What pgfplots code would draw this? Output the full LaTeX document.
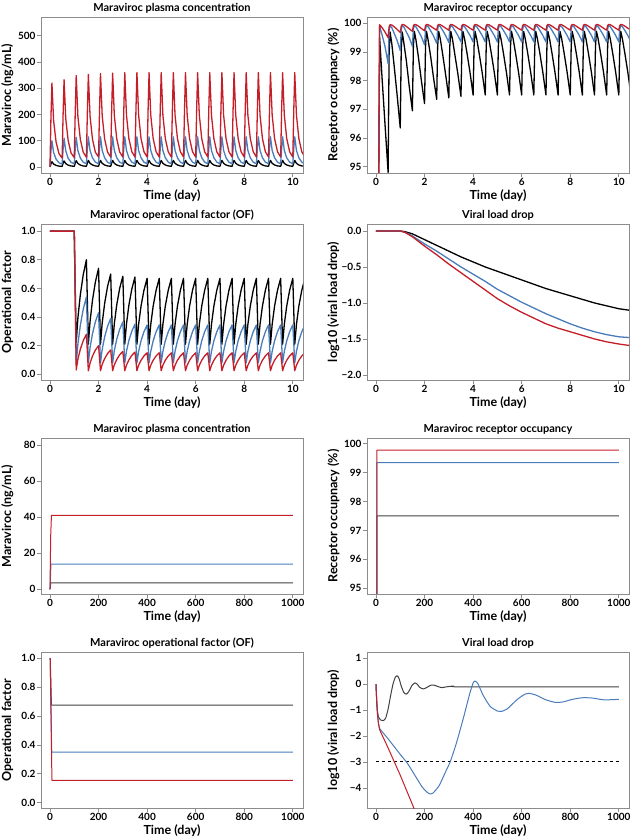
\documentclass[border=0pt]{standalone}
\usepackage{fontspec}
\setmainfont{Lato}
\usepackage{pgfplots}
\usepackage{pgfplotstable}
\pgfplotsset{compat=1.18}
\definecolor{cred}{RGB}{196,30,40}
\definecolor{cblue}{RGB}{74,124,186}
\definecolor{frm}{RGB}{140,140,140}

\pgfplotstableread{
t ck cb cr ok ob or fk fb fr
0 0 0 0 90 90 90 1 1 1
0.04 12 60 190 90 90 90 1 1 1
0.08 20 100 320 90 90 90 1 1 1
0.15 11 55 176 99.5 99.9 99.95 1 1 1
0.25 6 30 96 98.1 99.6 99.85 1 1 1
0.37 3.2 16 51 96.5 99.2 99.7 1 1 1
0.5 2.2 11 34 94.8 98.6 99.5 1 1 1
0.54 14 66 200 98.9 99.75 99.88 1 1 1
0.58 23 110 333 99.7 99.92 99.95 1 1 1
0.65 12.7 61 183 99.3 99.85 99.94 1 1 1
0.75 6.9 33 100 98.5 99.65 99.88 1 1 1
0.87 3.7 17.6 53 97.5 99.4 99.79 1 1 1
1.0 2.5 12 36 96.35 99.05 99.68 1 1 1
1.04 14.5 68 209 99.1 99.78 99.9 0.61 0.55 0.52
1.08 24 113 349 99.7 99.92 99.96 0.22 0.07 0.03
1.15 13.2 62 192 99.3 99.87 99.95 0.394 0.211 0.105
1.25 7.2 34 105 98.7 99.7 99.89 0.556 0.343 0.175
1.37 3.8 18 56 97.8 99.5 99.81 0.696 0.455 0.235
1.5 2.6 12 37 96.95 99.2 99.72 0.80 0.54 0.28
1.54 15 69 212 99.2 99.8 99.91 0.505 0.31 0.153
1.58 25 115 353 99.72 99.93 99.96 0.21 0.08 0.025
1.65 13.8 63 194 99.4 99.87 99.95 0.369 0.185 0.078
1.75 7.5 35 106 98.8 99.72 99.9 0.517 0.283 0.127
1.87 4 18.4 56 98.0 99.53 99.82 0.645 0.367 0.169
2.0 2.6 12 38 97.2 99.25 99.74 0.74 0.43 0.20
2.04 15 69 214 99.2 99.8 99.92 0.475 0.255 0.113
2.08 25 115 356 99.72 99.93 99.96 0.21 0.08 0.025
2.15 13.8 63 196 99.4 99.88 99.95 0.357 0.173 0.069
2.25 7.5 35 107 98.85 99.74 99.9 0.494 0.26 0.109
2.37 4 18.4 57 98.1 99.56 99.83 0.612 0.334 0.144
2.5 2.6 12 38 97.35 99.3 99.76 0.70 0.39 0.17
2.54 15 69 215 99.2 99.8 99.92 0.455 0.235 0.098
2.58 25 115 358 99.72 99.93 99.96 0.21 0.08 0.025
2.65 13.8 63 197 99.45 99.88 99.95 0.353 0.166 0.066
2.75 7.5 35 107 98.9 99.75 99.9 0.486 0.245 0.103
2.87 4 18.4 57 98.2 99.57 99.83 0.6 0.314 0.136
3.0 2.6 12 38 97.4 99.33 99.76 0.685 0.365 0.16
3.04 15 69 216 99.2 99.8 99.92 0.448 0.223 0.093
3.08 25 115 360 99.72 99.93 99.96 0.21 0.08 0.025
3.15 13.8 63 198 99.45 99.88 99.95 0.351 0.161 0.064
3.25 7.5 35 108 98.9 99.75 99.9 0.483 0.237 0.1
3.37 4 18.4 58 98.25 99.58 99.83 0.595 0.301 0.132
3.5 2.6 12 38 97.45 99.35 99.76 0.68 0.35 0.155
3.54 15 69 216 99.2 99.8 99.92 0.445 0.215 0.09
3.58 25 115 360 99.72 99.93 99.96 0.21 0.08 0.025
3.65 13.8 63 198 99.45 99.88 99.95 0.348 0.16 0.063
3.75 7.5 35 108 98.95 99.75 99.9 0.477 0.234 0.098
3.87 4 18.4 58 98.3 99.58 99.83 0.587 0.297 0.128
4.0 2.6 12 38 97.5 99.35 99.76 0.67 0.345 0.15
4.04 15 69 216 99.2 99.8 99.92 0.44 0.213 0.088
4.08 25 115 360 99.72 99.93 99.96 0.21 0.08 0.025
4.15 13.8 63 198 99.45 99.88 99.95 0.348 0.16 0.063
4.25 7.5 35 108 98.95 99.75 99.9 0.477 0.234 0.098
4.37 4 18.4 58 98.3 99.58 99.83 0.587 0.297 0.128
4.5 2.6 12 38 97.5 99.35 99.76 0.67 0.345 0.15
4.54 15 69 216 99.2 99.8 99.92 0.44 0.213 0.088
4.58 25 115 360 99.72 99.93 99.96 0.21 0.08 0.025
4.65 13.8 63 198 99.45 99.88 99.95 0.348 0.16 0.063
4.75 7.5 35 108 98.95 99.75 99.9 0.477 0.234 0.098
4.87 4 18.4 58 98.3 99.58 99.83 0.587 0.297 0.128
5.0 2.6 12 38 97.5 99.35 99.76 0.67 0.345 0.15
5.04 15 69 216 99.2 99.8 99.92 0.44 0.213 0.088
5.08 25 115 360 99.72 99.93 99.96 0.21 0.08 0.025
5.15 13.8 63 198 99.45 99.88 99.95 0.348 0.16 0.063
5.25 7.5 35 108 98.95 99.75 99.9 0.477 0.234 0.098
5.37 4 18.4 58 98.3 99.58 99.83 0.587 0.297 0.128
5.5 2.6 12 38 97.5 99.35 99.76 0.67 0.345 0.15
5.54 15 69 216 99.2 99.8 99.92 0.44 0.213 0.088
5.58 25 115 360 99.72 99.93 99.96 0.21 0.08 0.025
5.65 13.8 63 198 99.45 99.88 99.95 0.348 0.16 0.063
5.75 7.5 35 108 98.95 99.75 99.9 0.477 0.234 0.098
5.87 4 18.4 58 98.3 99.58 99.83 0.587 0.297 0.128
6.0 2.6 12 38 97.5 99.35 99.76 0.67 0.345 0.15
6.04 15 69 216 99.2 99.8 99.92 0.44 0.213 0.088
6.08 25 115 360 99.72 99.93 99.96 0.21 0.08 0.025
6.15 13.8 63 198 99.45 99.88 99.95 0.348 0.16 0.063
6.25 7.5 35 108 98.95 99.75 99.9 0.477 0.234 0.098
6.37 4 18.4 58 98.3 99.58 99.83 0.587 0.297 0.128
6.5 2.6 12 38 97.5 99.35 99.76 0.67 0.345 0.15
6.54 15 69 216 99.2 99.8 99.92 0.44 0.213 0.088
6.58 25 115 360 99.72 99.93 99.96 0.21 0.08 0.025
6.65 13.8 63 198 99.45 99.88 99.95 0.348 0.16 0.063
6.75 7.5 35 108 98.95 99.75 99.9 0.477 0.234 0.098
6.87 4 18.4 58 98.3 99.58 99.83 0.587 0.297 0.128
7.0 2.6 12 38 97.5 99.35 99.76 0.67 0.345 0.15
7.04 15 69 216 99.2 99.8 99.92 0.44 0.213 0.088
7.08 25 115 360 99.72 99.93 99.96 0.21 0.08 0.025
7.15 13.8 63 198 99.45 99.88 99.95 0.348 0.16 0.063
7.25 7.5 35 108 98.95 99.75 99.9 0.477 0.234 0.098
7.37 4 18.4 58 98.3 99.58 99.83 0.587 0.297 0.128
7.5 2.6 12 38 97.5 99.35 99.76 0.67 0.345 0.15
7.54 15 69 216 99.2 99.8 99.92 0.44 0.213 0.088
7.58 25 115 360 99.72 99.93 99.96 0.21 0.08 0.025
7.65 13.8 63 198 99.45 99.88 99.95 0.348 0.16 0.063
7.75 7.5 35 108 98.95 99.75 99.9 0.477 0.234 0.098
7.87 4 18.4 58 98.3 99.58 99.83 0.587 0.297 0.128
8.0 2.6 12 38 97.5 99.35 99.76 0.67 0.345 0.15
8.04 15 69 216 99.2 99.8 99.92 0.44 0.213 0.088
8.08 25 115 360 99.72 99.93 99.96 0.21 0.08 0.025
8.15 13.8 63 198 99.45 99.88 99.95 0.348 0.16 0.063
8.25 7.5 35 108 98.95 99.75 99.9 0.477 0.234 0.098
8.37 4 18.4 58 98.3 99.58 99.83 0.587 0.297 0.128
8.5 2.6 12 38 97.5 99.35 99.76 0.67 0.345 0.15
8.54 15 69 216 99.2 99.8 99.92 0.44 0.213 0.088
8.58 25 115 360 99.72 99.93 99.96 0.21 0.08 0.025
8.65 13.8 63 198 99.45 99.88 99.95 0.348 0.16 0.063
8.75 7.5 35 108 98.95 99.75 99.9 0.477 0.234 0.098
8.87 4 18.4 58 98.3 99.58 99.83 0.587 0.297 0.128
9.0 2.6 12 38 97.5 99.35 99.76 0.67 0.345 0.15
9.04 15 69 216 99.2 99.8 99.92 0.44 0.213 0.088
9.08 25 115 360 99.72 99.93 99.96 0.21 0.08 0.025
9.15 13.8 63 198 99.45 99.88 99.95 0.348 0.16 0.063
9.25 7.5 35 108 98.95 99.75 99.9 0.477 0.234 0.098
9.37 4 18.4 58 98.3 99.58 99.83 0.587 0.297 0.128
9.5 2.6 12 38 97.5 99.35 99.76 0.67 0.345 0.15
9.54 15 69 216 99.2 99.8 99.92 0.44 0.213 0.088
9.58 25 115 360 99.72 99.93 99.96 0.21 0.08 0.025
9.65 13.8 63 198 99.45 99.88 99.95 0.348 0.16 0.063
9.75 7.5 35 108 98.95 99.75 99.9 0.477 0.234 0.098
9.87 4 18.4 58 98.3 99.58 99.83 0.587 0.297 0.128
10.0 2.6 12 38 97.5 99.35 99.76 0.67 0.345 0.15
10.04 15 69 216 99.2 99.8 99.92 0.44 0.213 0.088
10.08 25 115 360 99.72 99.93 99.96 0.21 0.08 0.025
10.15 13.8 63 198 99.45 99.88 99.95 0.348 0.16 0.063
10.25 7.5 35 108 98.95 99.75 99.9 0.477 0.234 0.098
10.37 4 18.4 58 98.3 99.58 99.83 0.587 0.297 0.128
10.5 2.6 12 38 97.5 99.35 99.76 0.67 0.345 0.15
}\tabA

\pgfplotstableread{
t k b r
0 0 0 0
1 0 0 0
1.2 -0.01 -0.02 -0.02
1.5 -0.04 -0.07 -0.08
2 -0.12 -0.18 -0.21
2.5 -0.2 -0.28 -0.33
3 -0.28 -0.39 -0.46
3.5 -0.36 -0.5 -0.58
4 -0.43 -0.6 -0.7
4.5 -0.5 -0.7 -0.82
5 -0.56 -0.81 -0.94
5.5 -0.62 -0.9 -1.04
6 -0.68 -0.99 -1.13
6.5 -0.74 -1.07 -1.21
7 -0.8 -1.15 -1.29
7.5 -0.85 -1.22 -1.35
8 -0.9 -1.29 -1.4
8.5 -0.95 -1.35 -1.45
9 -1.0 -1.4 -1.5
9.5 -1.04 -1.44 -1.54
10 -1.08 -1.47 -1.57
10.42 -1.1 -1.48 -1.59
}\tabB

\pgfplotsset{
  panel/.style={
    scale only axis, width=262pt, height=156pt, anchor=south west,
    axis line style={frm, line width=0.8pt},
    tick pos=left, tick align=outside, major tick length=4pt,
    tick style={frm, line width=0.8pt},
    title style={font=\bfseries\fontsize{11}{13}\selectfont, yshift=-5.5pt},
    label style={font=\bfseries\fontsize{12.5}{14}\selectfont},
    tick label style={font=\bfseries\fontsize{10}{12}\selectfont},
    xticklabel style={yshift=2.5pt, /pgf/number format/set thousands separator={}},
    yticklabel style={xshift=2pt},
    /pgf/number format/assume math mode=true,
    xlabel={Time (day)},
    xlabel style={at={(axis description cs:0.5,-0.145)}, anchor=center},
    ylabel style={at={(axis description cs:-0.128,0.5)}, anchor=center},
  },
  topx/.style={xmin=-0.37, xmax=10.42, xtick={0,2,4,6,8,10}},
  botx/.style={xmin=-37, xmax=1042, xtick={0,200,400,600,800,1000}},
  kline/.style={black, line width=1.3pt, line join=round},
  bline/.style={cblue, line width=1.3pt, line join=round},
  rline/.style={cred, line width=1.3pt, line join=round},
  kthin/.style={black!75, line width=1pt, line join=round},
  bthin/.style={cblue, line width=1pt, line join=round},
  rthin/.style={cred, line width=1pt, line join=round},
}

\begin{document}
\begin{tikzpicture}
\useasboundingbox (0,0) rectangle (631pt,839pt);

% Panel 1
\begin{axis}[panel, topx, at={(41pt,666pt)}, ymin=-23, ymax=572, ytick={0,100,200,300,400,500},
  title={Maraviroc plasma concentration}, ylabel={Maraviroc (ng/mL)}]
\addplot[kline] table[x=t,y=ck]{\tabA};
\addplot[bline] table[x=t,y=cb]{\tabA};
\addplot[rline] table[x=t,y=cr]{\tabA};
\end{axis}

% Panel 2
\begin{axis}[panel, topx, at={(367pt,666pt)}, ymin=94.78, ymax=100.22, ytick={95,96,97,98,99,100},
  title={Maraviroc receptor occupancy}, ylabel={Receptor occupnacy (\%)}]
\addplot[kline] table[x=t,y=ok]{\tabA};
\addplot[bline] table[x=t,y=ob]{\tabA};
\addplot[rline] table[x=t,y=or]{\tabA};
\end{axis}

% Panel 3
\begin{axis}[panel, topx, at={(41pt,459pt)}, ymin=-0.04, ymax=1.05, ytick={0,0.2,0.4,0.6,0.8,1.0},
  yticklabel style={/pgf/number format/.cd, fixed, fixed zerofill, precision=1},
  title={Maraviroc operational factor (OF)}, ylabel={Operational factor}]
\addplot[kline] table[x=t,y=fk]{\tabA};
\addplot[bline] table[x=t,y=fb]{\tabA};
\addplot[rline] table[x=t,y=fr]{\tabA};
\end{axis}

% Panel 4
\begin{axis}[panel, topx, at={(367pt,459pt)}, ymin=-2.07, ymax=0.097,
  ytick={-2,-1.5,-1,-0.5,0}, yticklabels={−2.0,−1.5,−1.0,−0.5,0.0},
  title={Viral load drop}, ylabel={log10 (viral load drop)}]
\addplot[kline] table[x=t,y=k]{\tabB};
\addplot[bline] table[x=t,y=b]{\tabB};
\addplot[rline] table[x=t,y=r]{\tabB};
\end{axis}

% Panel 5
\begin{axis}[panel, botx, at={(41pt,245pt)}, ymin=-2.6, ymax=83.9, ytick={0,20,40,60,80},
  title={Maraviroc plasma concentration}, ylabel={Maraviroc (ng/mL)}]
\addplot[kthin] coordinates {(0,0) (3,3.5) (1000,3.5)};
\addplot[bthin] coordinates {(0,0) (4,14) (1000,14)};
\addplot[rthin] coordinates {(0,0) (3,30) (6,41) (1000,41)};
\end{axis}

% Panel 6
\begin{axis}[panel, botx, at={(367pt,245pt)}, ymin=94.8, ymax=100.2, ytick={95,96,97,98,99,100},
  title={Maraviroc receptor occupancy}, ylabel={Receptor occupnacy (\%)}]
\addplot[kthin] coordinates {(3,80) (4,97.5) (1000,97.5)};
\addplot[bthin] coordinates {(3,80) (4,99.35) (1000,99.35)};
\addplot[rthin] coordinates {(3,80) (4,99.78) (1000,99.78)};
\end{axis}

% Panel 7
\begin{axis}[panel, botx, at={(41pt,31pt)}, ymin=-0.037, ymax=1.044, ytick={0,0.2,0.4,0.6,0.8,1.0},
  yticklabel style={/pgf/number format/.cd, fixed, fixed zerofill, precision=1},
  title={Maraviroc operational factor (OF)}, ylabel={Operational factor}]
\addplot[kthin] coordinates {(0,1) (1,1) (6,0.675) (1000,0.675)};
\addplot[bthin] coordinates {(0,1) (1,1) (7,0.35) (1000,0.35)};
\addplot[rthin] coordinates {(0,1) (1,1) (8,0.155) (1000,0.155)};
\end{axis}

% Panel 8
\begin{axis}[panel, botx, at={(367pt,31pt)}, ymin=-4.76, ymax=1.24,
  ytick={-4,-3,-2,-1,0,1}, yticklabels={−4,−3,−2,−1,0,1},
  title={Viral load drop}, ylabel={log10 (viral load drop)}]
\addplot[black, line width=0.6pt, dashed] coordinates {(0,-2.95) (1000,-2.95)};
\addplot[kthin, smooth, tension=0.4] coordinates {(0,0) (3,-0.6) (6,-1.0) (10,-1.25) (20,-1.38) (30,-1.4) (40,-1.3) (50,-0.95) (60,-0.45) (70,0.0) (80,0.28) (87,0.33) (95,0.22) (105,-0.1) (115,-0.32) (125,-0.38) (135,-0.28) (148,-0.05) (160,0.05) (170,0.0) (180,-0.12) (195,-0.18) (210,-0.12) (225,-0.04) (237,-0.03) (250,-0.07) (270,-0.13) (290,-0.1) (320,-0.07) (350,-0.1) (1000,-0.1)};
\addplot[bthin, smooth, tension=0.4] coordinates {(0,0) (3,-0.65) (6,-1.1) (10,-1.5) (15,-1.7) (50,-2.1) (100,-2.7) (130,-3.05) (160,-3.5) (190,-3.95) (210,-4.15) (222,-4.22) (235,-4.18) (260,-3.9) (290,-3.3) (305,-3.0) (330,-2.3) (360,-1.3) (385,-0.4) (400,0.05) (408,0.12) (420,0.02) (440,-0.4) (470,-0.85) (500,-1.03) (515,-1.05) (540,-0.95) (580,-0.6) (610,-0.4) (630,-0.35) (660,-0.42) (700,-0.6) (740,-0.7) (770,-0.68) (810,-0.58) (850,-0.52) (890,-0.53) (940,-0.6) (1000,-0.58)};
\addplot[rthin] coordinates {(0,0) (3,-0.7) (6,-1.15) (10,-1.5) (15,-1.75) (50,-2.45) (100,-3.5) (160,-4.85)};
\end{axis}
\end{tikzpicture}
\end{document}
